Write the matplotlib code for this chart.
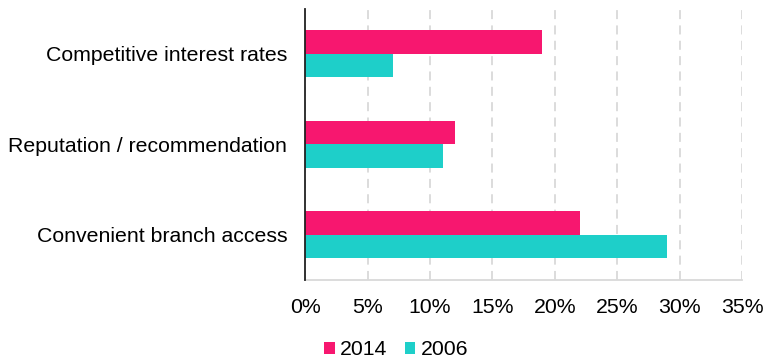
import numpy as np
import matplotlib.pyplot as plt
from matplotlib.ticker import FuncFormatter

plt.rcParams['font.family'] = ['Liberation Sans', 'DejaVu Sans']

categories = ['Competitive interest rates', 'Reputation / recommendation', 'Convenient branch access']
share_2014 = [19, 12, 22]
share_2006 = [7, 11, 29]
xticks = [0, 5, 10, 15, 20, 25, 30, 35]

fig = plt.figure(figsize=(7.65, 3.63), dpi=100)
ax = fig.add_axes([0.399, 0.229, 0.571, 0.747])

y = np.arange(len(categories))
h = 0.26
ax.barh(y - h / 2, share_2014, height=h, color='#f7176f', label='2014', zorder=3)
ax.barh(y + h / 2, share_2006, height=h, color='#1ecfc9', label='2006', zorder=3)

ax.set_ylim(len(categories) - 0.5, -0.5)
ax.set_xlim(0, 35)
ax.set_yticks(y)
ax.set_yticklabels(categories, fontsize=15.3)
ax.set_xticks(xticks)
ax.xaxis.set_major_formatter(FuncFormatter(lambda v, p: f'{v:.0f}%'))
ax.tick_params(axis='x', labelsize=15.3, length=0, pad=13)
ax.tick_params(axis='y', length=0, pad=13)

ax.grid(axis='x', color='#d9d9d9', linestyle=(0, (5, 3.5)), linewidth=1.3, zorder=0)
for s in ['top', 'right']:
    ax.spines[s].set_visible(False)
ax.spines['left'].set_color('#222222')
ax.spines['left'].set_linewidth(1.3)
ax.spines['left'].set_zorder(4)
ax.spines['bottom'].set_color('#d9d9d9')
ax.spines['bottom'].set_linewidth(1.3)

fig.legend(loc='lower center', bbox_to_anchor=(0.518, -0.042), ncol=2, frameon=False,
           fontsize=15.3, handlelength=0.5, handleheight=0.5, handletextpad=0.25,
           columnspacing=0.8)

fig.savefig('out.png', dpi=100)
